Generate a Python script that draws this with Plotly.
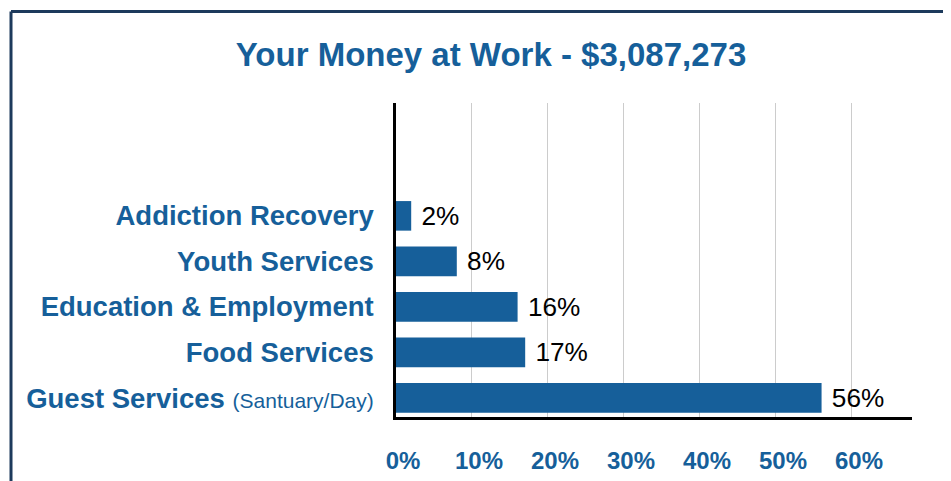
import plotly.graph_objects as go

categories = ["Guest Services", "Food Services", "Education & Employment",
              "Youth Services", "Addiction Recovery"]
category_notes = ["(Santuary/Day)", "", "", "", ""]
values = [56, 17, 16, 8, 2]
x_ticks = [0, 10, 20, 30, 40, 50, 60]
title_text = "Your Money at Work - $3,087,273"

BLUE = "#165f9a"
FONT = "Liberation Sans, Arial, sans-serif"

tick_labels = []
for c, n in zip(categories, category_notes):
    s = f"<b>{c}</b>"
    if n:
        s += f" <span style='font-size:21px'>{n}</span>"
    tick_labels.append(s)

fig = go.Figure(go.Bar(
    x=values,
    y=categories,
    orientation="h",
    marker=dict(color=BLUE, line=dict(width=0)),
    width=0.65,
    text=[f" {v}%" for v in values],
    textposition="outside",
    cliponaxis=False,
    textfont=dict(family=FONT, size=31, color="black"),
    hoverinfo="skip",
))

# page has an 8px body margin, so figure coords = reference coords - 8
OFF = 8
W, H = 951 - OFF, 481 - OFF
L, T = 396 - OFF, 103 - OFF
R = W - (912 - OFF)
B = H - (417 - OFF)
pw, ph = W - L - R, H - T - B

def px(xpix):
    return (xpix - OFF - L) / pw

def py(ypix):
    return 1 - (ypix - OFF - T) / ph

border = "#1d3a5c"
fig.update_layout(
    width=W, height=H,
    margin=dict(l=L, r=R, t=T, b=B, autoexpand=False),
    paper_bgcolor="white",
    plot_bgcolor="white",
    showlegend=False,
    title=dict(text=f"<b>{title_text}</b>", x=(491 - OFF) / W, xanchor="center",
               xref="container",
               y=1 - (54 - OFF) / H, yanchor="middle",
               font=dict(family=FONT, size=33, color=BLUE)),
    xaxis=dict(
        range=[0, 67.9],
        tickmode="array",
        tickvals=x_ticks,
        ticktext=[f"<b>{t}%</b>" for t in x_ticks],
        tickfont=dict(family=FONT, size=24, color=BLUE),
        showgrid=True, gridcolor="#cccccc", gridwidth=1,
        showline=True, linecolor="black", linewidth=2.5,
        zeroline=False,
        ticks="",
        ticklabelstandoff=20,
        ticklabelshift=7,
        fixedrange=True,
    ),
    yaxis=dict(
        type="category",
        categoryorder="array",
        categoryarray=categories,
        tickmode="array",
        tickvals=categories,
        ticktext=tick_labels,
        range=[-0.42, 6.48],
        tickfont=dict(family=FONT, size=27.5, color=BLUE),
        showgrid=False,
        showline=True, linecolor="black", linewidth=2.5,
        ticks="",
        ticklabelstandoff=14,
        fixedrange=True,
    ),
    shapes=[
        dict(type="line", xref="paper", yref="paper",
             x0=px(11), x1=px(960), y0=py(11.5), y1=py(11.5),
             line=dict(color=border, width=3)),
        dict(type="line", xref="paper", yref="paper",
             x0=px(11), x1=px(11), y0=py(11.5), y1=py(490),
             line=dict(color=border, width=3)),
    ],
)

fig.write_html("out.html")
